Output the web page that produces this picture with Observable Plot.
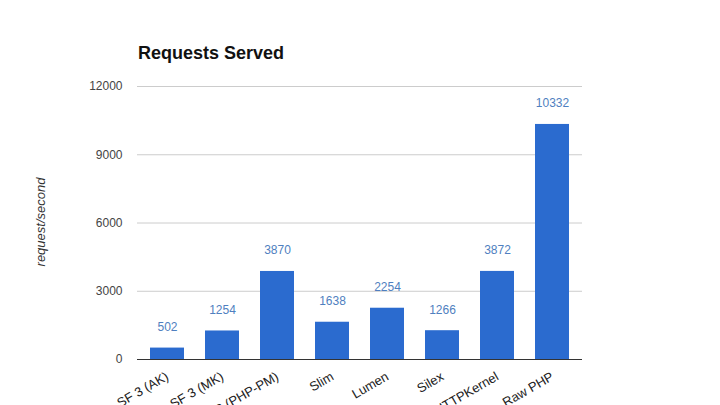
<!DOCTYPE html>
<html>
<head>
<meta charset="utf-8">
<script src="https://cdn.jsdelivr.net/npm/d3@7"></script>
<script src="https://cdn.jsdelivr.net/npm/@observablehq/plot@0.6"></script>
<style>
  html, body { margin: 0; padding: 0; background: #fff; }
  #wrap { position: relative; width: 720px; height: 405px; overflow: hidden; font-family: Arial, "Liberation Sans", sans-serif; }
  #title { position: absolute; left: 138px; top: 43px; font-size: 18px; font-weight: bold; color: #111; }
  #ylabel { position: absolute; left: 40px; top: 222px; transform: translate(-50%, -50%) rotate(-90deg); font-size: 13px; font-style: italic; color: #333; white-space: nowrap; }
  #chart { position: absolute; left: 0; top: 0; }
</style>
</head>
<body>
<div id="wrap">
  <div id="chart"></div>
  <div id="title">Requests Served</div>
  <div id="ylabel">request/second</div>
</div>
<script>
const categories = ["SF 3 (AK)", "SF 3 (MK)", "SF 3 (PHP-PM)", "Slim", "Lumen", "Silex", "HTTPKernel", "Raw PHP"];
const values = [502, 1254, 3870, 1638, 2254, 1266, 3872, 10332];
const yTicks = [0, 3000, 6000, 9000, 12000];

const data = categories.map((c, i) => ({category: c, value: values[i]}));

const chart = Plot.plot({
  width: 720,
  height: 405,
  marginLeft: 137,
  marginRight: 138,
  marginTop: 86,
  marginBottom: 46,
  style: {fontFamily: "Arial, 'Liberation Sans', sans-serif", fontSize: "12px", background: "transparent"},
  x: {domain: categories, paddingInner: 0.39, paddingOuter: 0.2, label: null},
  y: {domain: [0, 12000], label: null},
  marks: [
    Plot.ruleY(yTicks.filter(d => d > 0), {stroke: "#cccccc", strokeWidth: 1}),
    Plot.axisY({ticks: yTicks, tickFormat: d => String(d), tickSize: 0, tickPadding: 15, label: null, fill: "#444", fontSize: 12}),
    Plot.axisX({tickSize: 0, tickPadding: 16, tickRotate: -30, label: null, fill: "#222", fontSize: 13}),
    Plot.barY(data, {x: "category", y: "value", fill: "#2b6bcf"}),
    Plot.text(data, {x: "category", y: "value", text: d => String(d.value), dy: -21, fill: "#4f7fc0", fontSize: 12}),
    Plot.ruleY([0], {stroke: "#333", strokeWidth: 1})
  ]
});
document.getElementById("chart").appendChild(chart);
</script>
</body>
</html>
